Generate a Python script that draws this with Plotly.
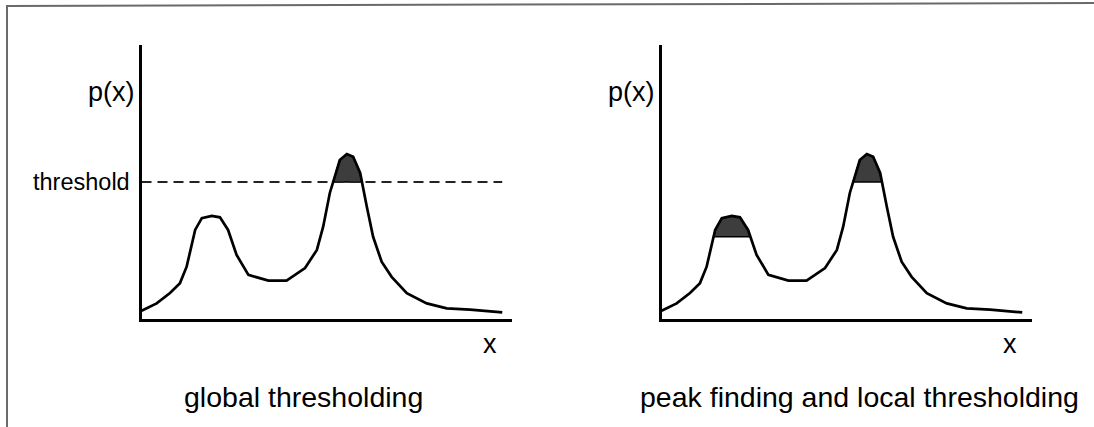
import numpy as np
import plotly.graph_objects as go

# Histogram-like density curve p(x), shared by both panels
x_vals = [0.0, 4.1, 7.7, 10.4, 12.2, 14.5, 16.3, 19.0, 21.2, 23.4, 25.7, 28.9,
          34.3, 39.2, 44.2, 47.4, 49.1, 50.9, 53.6, 55.5, 57.2, 59.1, 60.9,
          62.6, 64.9, 67.6, 71.7, 77.1, 82.5, 88.8, 97.5]
y_vals = [3.0, 5.7, 9.5, 13.1, 19.1, 32.5, 36.8, 37.6, 37.1, 32.5, 23.4, 16.1,
          14.0, 14.0, 18.6, 25.2, 33.7, 46.0, 58.0, 60.2, 59.2, 53.3, 41.0,
          30.0, 20.9, 15.4, 9.4, 5.7, 3.9, 3.4, 2.4]

global_threshold = 50.0
peak_x = [19.0, 55.5]            # positions of the two peaks
local_thresholds = [30.0, 50.0]  # per-peak thresholds (right panel)

panel_titles = ["global thresholding", "peak finding and local thresholding"]
y_label = "p(x)"
x_label = "x"
threshold_label = "threshold"

W, H = 1094, 427
FONT = "Liberation Sans, Arial, Helvetica, sans-serif"


def px(v):
    return v / W


def py(v):
    return 1 - v / H


def cap_polygon(xs, ys, xpeak, thr):
    """Region of the curve above thr around the peak at xpeak."""
    xs = np.asarray(xs, float)
    ys = np.asarray(ys, float)
    i = int(np.argmin(np.abs(xs - xpeak)))
    lo = i
    while lo > 0 and ys[lo - 1] >= thr:
        lo -= 1
    hi = i
    while hi < len(xs) - 1 and ys[hi + 1] >= thr:
        hi += 1
    # linear crossing points
    xl = xs[lo - 1] + (thr - ys[lo - 1]) * (xs[lo] - xs[lo - 1]) / (ys[lo] - ys[lo - 1])
    xr = xs[hi] + (thr - ys[hi]) * (xs[hi + 1] - xs[hi]) / (ys[hi + 1] - ys[hi])
    px_ = [xl] + list(xs[lo:hi + 1]) + [xr, xl]
    py_ = [thr] + list(ys[lo:hi + 1]) + [thr, thr]
    return px_, py_


fig = go.Figure()

# panel pixel geometry
left_x0, left_x1 = 141.5, 511.5
right_x0, right_x1 = 661.5, 1031.5
ax_top, ax_bot = 45, 319

cap_fill = "#3d3d3d"
curve_w = 2.7

# ---- left panel: single global threshold
cx, cy = cap_polygon(x_vals, y_vals, peak_x[1], global_threshold)
fig.add_trace(go.Scatter(x=cx, y=cy, mode="lines", fill="toself",
                         fillcolor=cap_fill, line=dict(color="black", width=1.5),
                         xaxis="x", yaxis="y", hoverinfo="skip"))
fig.add_trace(go.Scatter(x=[0, x_vals[-1]], y=[global_threshold] * 2, mode="lines",
                         line=dict(color="#222", width=2, dash="10px,6px"),
                         xaxis="x", yaxis="y", hoverinfo="skip"))
fig.add_trace(go.Scatter(x=x_vals, y=y_vals, mode="lines",
                         line=dict(color="black", width=curve_w),
                         xaxis="x", yaxis="y", hoverinfo="skip"))

# ---- right panel: local thresholds per peak
for xp, thr in zip(peak_x, local_thresholds):
    cx, cy = cap_polygon(x_vals, y_vals, xp, thr)
    fig.add_trace(go.Scatter(x=cx, y=cy, mode="lines", fill="toself",
                             fillcolor=cap_fill, line=dict(color="black", width=1.5),
                             xaxis="x2", yaxis="y2", hoverinfo="skip"))
fig.add_trace(go.Scatter(x=x_vals, y=y_vals, mode="lines",
                         line=dict(color="black", width=curve_w),
                         xaxis="x2", yaxis="y2", hoverinfo="skip"))

axis_common = dict(showgrid=False, zeroline=False, showticklabels=False, ticks="",
                   showline=True, linecolor="black", linewidth=2.5, fixedrange=True)
ydom = [py(ax_bot), py(ax_top)]

fig.update_layout(
    width=W, height=H, autosize=False,
    margin=dict(l=0, r=0, t=0, b=0),
    paper_bgcolor="white", plot_bgcolor="white",
    showlegend=False,
    xaxis=dict(domain=[px(left_x0), px(left_x1)], range=[0, 100], anchor="y", **axis_common),
    yaxis=dict(domain=ydom, range=[0, 100], anchor="x", **axis_common),
    xaxis2=dict(domain=[px(right_x0), px(right_x1)], range=[0, 100], anchor="y2", **axis_common),
    yaxis2=dict(domain=ydom, range=[0, 100], anchor="x2", **axis_common),
)

annotations = []
for x0, title, xc in [(left_x0, panel_titles[0], 303.5), (right_x0, panel_titles[1], 859.6)]:
    annotations.append(dict(text=y_label, x=px(x0 - 5), y=py(92), xref="paper", yref="paper",
                            xanchor="right", yanchor="middle", showarrow=False,
                            font=dict(family=FONT, size=27, color="black")))
    annotations.append(dict(text=x_label, x=px(x0 + 348), y=py(344), xref="paper", yref="paper",
                            xanchor="center", yanchor="middle", showarrow=False,
                            font=dict(family=FONT, size=27, color="black")))
    annotations.append(dict(text=title, x=px(xc), y=py(397), xref="paper", yref="paper",
                            xanchor="center", yanchor="middle", showarrow=False,
                            font=dict(family=FONT, size=28.5, color="black")))
annotations.append(dict(text=threshold_label, x=px(left_x0 - 10), y=global_threshold,
                        xref="paper", yref="y", xanchor="right", yanchor="middle",
                        showarrow=False, font=dict(family=FONT, size=23.5, color="black")))
fig.update_layout(annotations=annotations)

# outer frame (top and left edges)
fig.add_shape(type="line", xref="paper", yref="paper",
              x0=px(7), y0=py(6), x1=1, y1=py(3),
              line=dict(color="#6a6a6a", width=2))
fig.add_shape(type="line", xref="paper", yref="paper",
              x0=px(7), y0=py(5), x1=px(7), y1=0,
              line=dict(color="#6a6a6a", width=2))

fig.write_html("out.html")
